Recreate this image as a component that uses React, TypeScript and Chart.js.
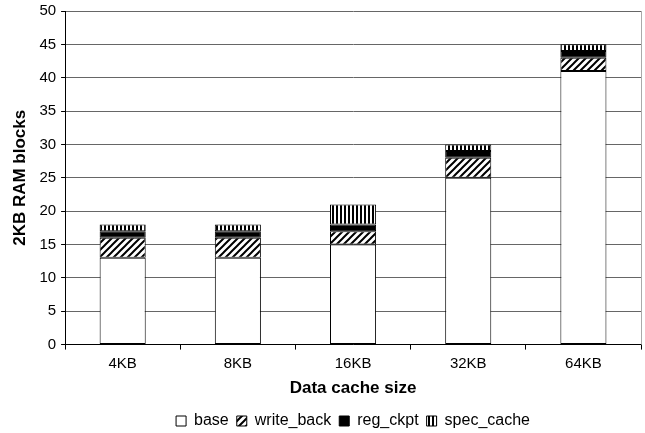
import { useEffect, useRef } from "react";
import { Chart, registerables } from "chart.js";

Chart.register(...registerables);

const categories = ["4KB", "8KB", "16KB", "32KB", "64KB"];
const base = [13, 13, 15, 25, 41];
const writeBack = [3, 3, 2, 3, 2];
const regCkpt = [1, 1, 1, 1, 1];
const specCache = [1, 1, 3, 1, 1];

const FONT = "'Liberation Sans', Arial, sans-serif";

// diagonal "/" hatch
function makeHatch(): CanvasPattern | string {
  const s = 7;
  const c = document.createElement("canvas");
  c.width = s;
  c.height = s;
  const g = c.getContext("2d");
  if (!g) return "#fff";
  g.fillStyle = "#fff";
  g.fillRect(0, 0, s, s);
  g.strokeStyle = "#000";
  g.lineWidth = 2;
  g.beginPath();
  g.moveTo(-1, s + 1);
  g.lineTo(s + 1, -1);
  g.moveTo(-1, 1);
  g.lineTo(1, -1);
  g.moveTo(s - 1, s + 1);
  g.lineTo(s + 1, s - 1);
  g.stroke();
  return g.createPattern(c, "repeat") || "#fff";
}

// vertical stripes
function makeStripes(): CanvasPattern | string {
  const c = document.createElement("canvas");
  c.width = 4;
  c.height = 4;
  const g = c.getContext("2d");
  if (!g) return "#000";
  g.fillStyle = "#fff";
  g.fillRect(0, 0, 4, 4);
  g.fillStyle = "#000";
  g.fillRect(0, 0, 2, 4);
  return g.createPattern(c, "repeat") || "#000";
}

// right frame line + legend centred under the plot area
const frame = {
  id: "frame",
  afterLayout(chart: Chart) {
    const lg: any = (chart as any).legend;
    if (lg) {
      lg.left = chart.chartArea.left;
      lg.right = chart.chartArea.right;
    }
  },
  afterDraw(chart: Chart) {
    const { ctx, chartArea } = chart;
    ctx.save();
    ctx.strokeStyle = "#aaa";
    ctx.lineWidth = 1;
    ctx.beginPath();
    ctx.moveTo(chartArea.right + 0.5, chartArea.top);
    ctx.lineTo(chartArea.right + 0.5, chartArea.bottom);
    ctx.stroke();
    ctx.restore();
  },
};

export default function App() {
  const canvasRef = useRef<HTMLCanvasElement | null>(null);

  useEffect(() => {
    if (!canvasRef.current) return;
    const seg = {
      borderColor: "#000",
      borderWidth: 1,
      borderSkipped: false as const,
      barPercentage: 0.4,
      categoryPercentage: 1,
    };
    const chart = new Chart(canvasRef.current, {
      type: "bar",
      data: {
        labels: categories,
        datasets: [
          { label: "base", data: base, backgroundColor: "#fff", ...seg },
          { label: "write_back", data: writeBack, backgroundColor: makeHatch() as any, ...seg },
          { label: "reg_ckpt", data: regCkpt, backgroundColor: "#000", ...seg },
          { label: "spec_cache", data: specCache, backgroundColor: makeStripes() as any, ...seg },
        ],
      },
      plugins: [frame],
      options: {
        animation: false,
        responsive: true,
        maintainAspectRatio: false,
        layout: { padding: { top: 11, right: 4, left: 10, bottom: -6 } },
        plugins: {
          tooltip: { enabled: false },
          legend: {
            position: "bottom",
            labels: {
              boxWidth: 10,
              boxHeight: 10,
              padding: 8,
              color: "#000",
              font: { family: FONT, size: 16 },
            },
          },
        },
        scales: {
          x: {
            stacked: true,
            grid: {
              display: true,
              offset: true,
              drawOnChartArea: false,
              tickLength: 5,
              color: "#000",
            },
            border: { color: "#000" },
            ticks: { color: "#000", font: { family: FONT, size: 15 }, padding: 5 },
            title: {
              display: true,
              text: "Data cache size",
              color: "#000",
              font: { family: FONT, size: 17, weight: "bold" },
              padding: { top: 1, bottom: 6 },
            },
          },
          y: {
            stacked: true,
            min: 0,
            max: 50,
            afterFit: (s: any) => {
              s.paddingTop = 0;
            },
            ticks: { stepSize: 5, color: "#000", font: { family: FONT, size: 15 }, padding: 5 },
            grid: { color: "#666", tickLength: 4, tickColor: "#000" },
            border: { color: "#000" },
            title: {
              display: true,
              text: "2KB RAM blocks",
              color: "#000",
              font: { family: FONT, size: 17, weight: "bold" },
              padding: { top: 0, bottom: 4 },
            },
          },
        },
      },
    });
    return () => chart.destroy();
  }, []);

  return (
    <div style={{ position: "absolute", left: 0, top: 0, width: 645, height: 433, background: "#fff" }}>
      <canvas ref={canvasRef} />
    </div>
  );
}
